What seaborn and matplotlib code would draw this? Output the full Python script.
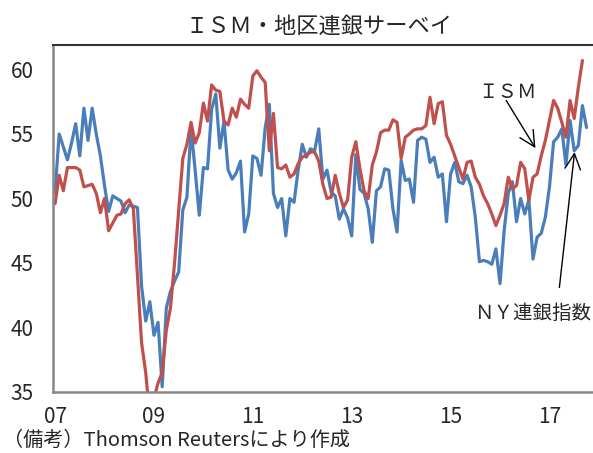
import numpy as np
import pandas as pd
import matplotlib
matplotlib.use("Agg")
import matplotlib.pyplot as plt
import seaborn as sns

# ---- data (monthly, Jan 2007 = index 0) ----
ism = [49.6, 51.8, 50.6, 52.4, 52.4, 52.4, 52.2, 50.9, 51.0, 51.1, 50.4, 48.9,
       50.0, 47.5, 48.1, 48.7, 48.8, 49.6, 49.9, 49.2, 44.0, 38.8, 36.5, 33.0,
       34.5, 35.7, 36.5, 39.8, 41.5, 45.0, 49.0, 53.1, 54.2, 55.9, 54.3, 55.1,
       57.4, 56.0, 58.8, 58.4, 58.3, 56.0, 55.7, 57.0, 56.3, 57.7, 57.3, 57.0,
       59.5, 59.9, 59.4, 59.0, 53.7, 56.6, 52.4, 52.3, 52.6, 51.65, 51.9, 52.7,
       53.2, 53.35, 53.6, 53.6, 52.9, 51.1, 50.0, 50.1, 51.8, 50.4, 49.3, 49.9,
       53.2, 54.4, 52.3, 50.6, 50.0, 52.6, 53.6, 55.1, 55.3, 55.3, 56.1, 55.9,
       53.1, 54.75, 55.0, 55.3, 55.4, 55.4, 55.65, 57.85, 55.8, 57.35, 57.5, 54.9,
       54.2, 53.3, 52.4, 51.5, 52.8, 52.9, 51.65, 51.1, 50.2, 49.6, 48.8, 47.9,
       48.7, 49.6, 51.65, 50.75, 51.0, 52.8, 52.3, 49.85, 51.65, 51.9, 53.3, 54.5,
       56.05, 57.6, 57.0, 55.9, 54.75, 57.6, 56.2, 58.6, 60.7, np.nan]

ny_fed = [50.5, 55.0, 54.0, 53.0, 54.3, 55.8, 53.3, 57.0, 54.5, 57.0, 55.0, 53.3,
          51.0, 49.0, 50.2, 50.0, 49.8, 48.9, 49.5, 49.4, 49.3, 43.2, 40.5, 42.0,
          39.4, 40.4, 35.4, 41.5, 42.8, 43.6, 44.3, 49.1, 50.1, 55.4, 52.2, 48.7,
          52.4, 52.3, 56.9, 58.1, 53.9, 56.0, 52.2, 51.5, 52.0, 52.9, 47.4, 48.8,
          53.3, 53.1, 51.8, 55.5, 57.3, 50.4, 49.3, 50.0, 47.1, 50.0, 49.7, 52.2,
          54.2, 53.2, 53.85, 53.7, 55.4, 51.5, 52.2, 50.5, 50.2, 48.4, 49.2, 48.5,
          47.1, 53.4, 50.7, 50.4, 49.2, 46.6, 50.6, 50.9, 52.3, 52.2, 49.2, 47.4,
          52.95, 51.4, 51.5, 49.7, 54.5, 54.75, 54.6, 52.8, 53.2, 51.65, 51.9, 48.2,
          51.9, 52.8, 51.3, 51.15, 51.8, 50.9, 48.55, 45.1, 45.2, 45.1, 44.9, 46.1,
          43.4, 47.5, 50.4, 51.3, 48.2, 50.0, 48.8, 49.9, 45.3, 47.0, 47.3, 48.55,
          50.9, 54.4, 54.75, 55.4, 52.6, 56.05, 53.7, 54.1, 57.2, 55.5]

month_index = list(range(len(ny_fed)))
tick_positions = [0, 24, 48, 72, 96, 120]
tick_labels = ["07", "09", "11", "13", "15", "17"]
y_ticks = [35, 40, 45, 50, 55, 60]

series_names = ["ＩＳＭ", "ＮＹ連銀指数"]
colors = {"ＩＳＭ": "#C0504D", "ＮＹ連銀指数": "#4A7EBB"}

df = pd.DataFrame({
    "m": month_index * 2,
    "v": ism + ny_fed,
    "s": [series_names[0]] * len(ism) + [series_names[1]] * len(ny_fed),
})

sns.set_style("white")
plt.rcParams["font.family"] = ["Noto Sans CJK JP", "DejaVu Sans"]

fig = plt.figure(figsize=(5.93, 4.53), dpi=100)
ax = fig.add_axes([0.0894, 0.1347, 0.915, 0.766])

sns.lineplot(data=df, x="m", y="v", hue="s", palette=colors,
             hue_order=[series_names[1], series_names[0]],
             linewidth=2.3, ax=ax, legend=False, sort=False, estimator=None)

ax.set_xlim(-0.5, 131.2)
ax.set_ylim(35, 61.9)
ax.set_xticks(tick_positions)
ax.set_xticklabels(tick_labels)
ax.set_yticks(y_ticks)
ax.set_xlabel("")
ax.set_ylabel("")
ax.tick_params(axis="y", length=5, width=1.2, color="#888888", pad=9, labelsize=15)
ax.tick_params(axis="x", length=0, pad=10, labelsize=15)

for side in ["left", "bottom"]:
    ax.spines[side].set_color("#888888")
    ax.spines[side].set_linewidth(1.8)
ax.spines["top"].set_color("#333333")
ax.spines["top"].set_linewidth(1.5)
ax.spines["right"].set_visible(False)

# annotations
ax.text(109.8, 58.2, "ＩＳＭ", fontsize=14, ha="center", va="center")
ax.annotate("", xy=(116.6, 53.9), xytext=(109.5, 57.6),
            arrowprops=dict(arrowstyle="->", color="black", lw=1.0, mutation_scale=28,
                            shrinkA=0, shrinkB=0))
ax.text(116.1, 41.1, "ＮＹ連銀指数", fontsize=14, ha="center", va="center")
ax.annotate("", xy=(126.1, 53.6), xytext=(122.4, 43.1),
            arrowprops=dict(arrowstyle="->", color="black", lw=1.0, mutation_scale=28,
                            shrinkA=0, shrinkB=0))

fig.text(0.538, 0.943, "ＩＳＭ・地区連銀サーベイ", fontsize=16, ha="center", va="center")
fig.text(0.005, 0.027, "（備考）Thomson Reutersにより作成", fontsize=14.5, ha="left", va="center")

fig.savefig("out.png", dpi=100)
